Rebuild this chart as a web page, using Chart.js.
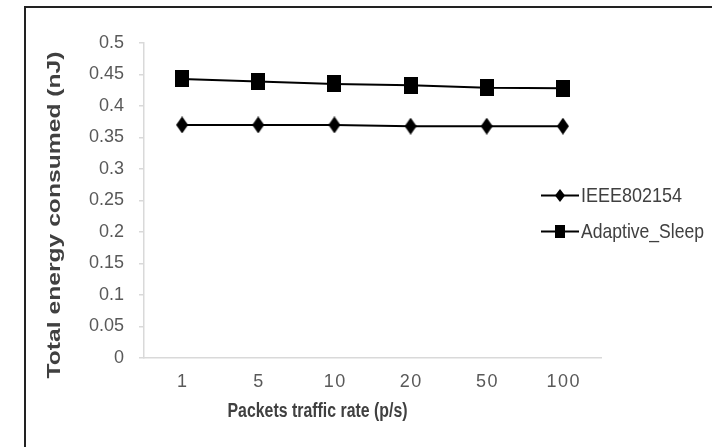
<!DOCTYPE html>
<html>
<head>
<meta charset="utf-8">
<script src="https://cdn.jsdelivr.net/npm/chart.js@4"></script>
<style>
body{margin:0;background:#fff;}
#wrap{position:absolute;left:24px;top:6px;width:704px;height:452px;border:2px solid #222;background:#fff;}
#box{position:absolute;left:0;top:0;width:700px;height:439px;}
</style>
</head>
<body>
<div id="wrap"><div id="box"><canvas id="c"></canvas></div></div>
<script>
var rates = ['1', '5', '10', '20', '50', '100'];
var ieee = [0.370, 0.370, 0.370, 0.368, 0.368, 0.368];
var adaptive = [0.443, 0.439, 0.435, 0.433, 0.429, 0.428];
var names = ['IEEE802154', 'Adaptive_Sleep'];
var xTitle = 'Packets traffic rate (p/s)';
var yTitle = 'Total energy consumed (nJ)';

var fam = '"Liberation Sans", Arial, sans-serif';
var grey = '#595959';
var dark = '#404040';

// small black marker images, a bit taller than wide like the picture
function marker(kind, w, h){
    var c = document.createElement('canvas');
    c.width = w; c.height = h;
    var g = c.getContext('2d');
    g.fillStyle = '#000';
    if(kind == 'rect'){
        g.fillRect(0, 0, w, h);
    } else {
        g.beginPath();
        g.moveTo(w/2, 0); g.lineTo(w, h/2); g.lineTo(w/2, h); g.lineTo(0, h/2);
        g.closePath();
        g.fill();
    }
    return c;
}
var plotMarks = [marker('diamond', 12, 17), marker('rect', 14, 17)];
var legMarks = [marker('diamond', 10, 13), marker('rect', 10, 13)];

// text squeezed/stretched to a given width
function fitText(ctx, txt, x, y, w, rot){
    var nat = ctx.measureText(txt).width;
    ctx.save();
    ctx.translate(x, y);
    if(rot) ctx.rotate(rot);
    ctx.scale(w / nat, 1);
    ctx.fillText(txt, 0, 0);
    ctx.restore();
}

var decor = {
    id: 'decor',
    afterDraw: function(chart){
        var ctx = chart.ctx;
        var a = chart.chartArea;
        ctx.save();
        // legend
        var lx = a.right - 60;
        var ly = [187.5, 223.5];
        var lw = [101, 123];
        for(var i = 0; i < 2; i++){
            ctx.strokeStyle = '#000';
            ctx.lineWidth = 2;
            ctx.beginPath();
            ctx.moveTo(lx, ly[i]);
            ctx.lineTo(lx + 38, ly[i]);
            ctx.stroke();
            ctx.drawImage(legMarks[i], lx + 19 - legMarks[i].width/2, ly[i] - legMarks[i].height/2);
            ctx.fillStyle = dark;
            ctx.font = '21px ' + fam;
            ctx.textAlign = 'left';
            ctx.textBaseline = 'middle';
            fitText(ctx, names[i], lx + 40, ly[i] + 1, lw[i], 0);
        }
        // axis titles
        ctx.fillStyle = dark;
        ctx.textAlign = 'center';
        ctx.font = 'bold 20px ' + fam;
        ctx.textBaseline = 'alphabetic';
        fitText(ctx, xTitle, (a.left + a.right) / 2 - 55, 409, 180, 0);
        ctx.textBaseline = 'middle';
        ctx.font = 'bold 18px ' + fam;
        fitText(ctx, yTitle, 29, 207, 327, -Math.PI/2);
        ctx.restore();
    }
};

var chart = new Chart(document.getElementById('c'), {
    type: 'line',
    data: {
        labels: rates,
        datasets: [{
            label: names[0],
            data: ieee,
            borderColor: '#000',
            backgroundColor: '#000',
            borderWidth: 2,
            pointStyle: plotMarks[0]
        }, {
            label: names[1],
            data: adaptive,
            borderColor: '#000',
            backgroundColor: '#000',
            borderWidth: 2,
            pointStyle: plotMarks[1]
        }]
    },
    options: {
        responsive: true,
        maintainAspectRatio: false,
        animation: false,
        layout: {padding: {left: 0, right: 125, top: 35, bottom: 0}},
        plugins: {
            legend: {display: false},
            tooltip: {enabled: false}
        },
        scales: {
            x: {
                offset: true,
                afterFit: function(s){ s.height = 89; },
                grid: {display: false, drawTicks: false},
                border: {display: true, color: '#d9d9d9', width: 1.5},
                ticks: {
                    color: grey,
                    font: {family: fam, size: 18},
                    padding: 13,
                    callback: function(v, i){ return rates[i].split('').join('\u200A'); }
                }
            },
            y: {
                min: 0,
                max: 0.5,
                afterFit: function(s){ s.width = 118; },
                ticks: {
                    stepSize: 0.05,
                    color: grey,
                    font: {family: fam, size: 18},
                    padding: 15,
                    callback: function(v){ return String(Math.round(v * 100) / 100); }
                },
                grid: {drawOnChartArea: false, color: '#d9d9d9', tickLength: 5, lineWidth: 1.5},
                border: {display: true, color: '#d9d9d9', width: 1.5}
            }
        }
    },
    plugins: [decor]
});
</script>
</body>
</html>
